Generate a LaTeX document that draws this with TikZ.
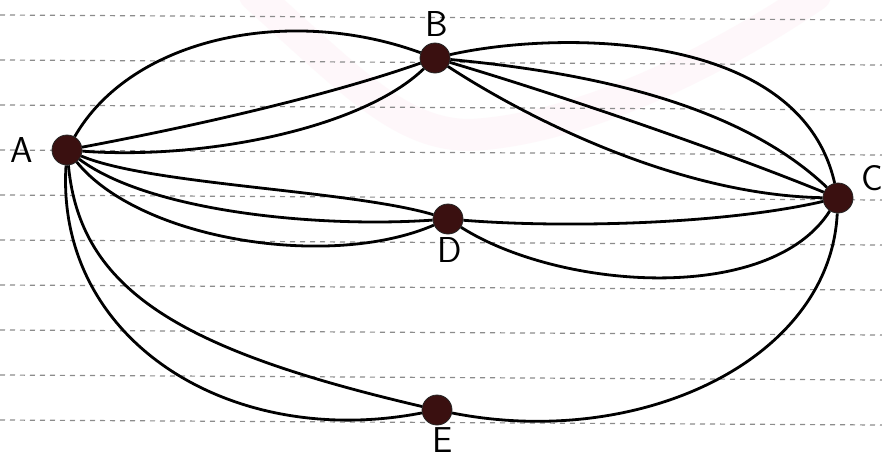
\documentclass[tikz,border=0pt]{standalone}
\definecolor{dotfill}{RGB}{58,16,16}
\definecolor{ruling}{RGB}{140,140,140}
\definecolor{blush}{RGB}{253,236,243}
\begin{document}
\begin{tikzpicture}[x=1pt,y=-1pt,
  vertex/.style={circle,fill=dotfill,draw=black!85,line width=0.8pt,minimum size=30pt,inner sep=0pt},
  letter/.style={font=\sffamily\fontsize{36}{36}\selectfont,inner sep=0pt},
  edge/.style={line width=2.8pt,black},
  ruleline/.style={ruling,line width=1.2pt,dash pattern=on 5pt off 5pt}]
\useasboundingbox (0,0) rectangle (882,459);
\fill[white] (0,0) rectangle (882,459);
% faint pink stroke on the paper
\draw[blush,line width=32pt,line cap=round,opacity=0.4]
  (255,-5) .. controls (350,80) and (400,135) .. (470,135)
  .. controls (580,130) and (720,60) .. (815,-5);
% ruled paper
\foreach \k in {0,...,9} \draw[ruleline] (0,15+45*\k) -- (882,20+45*\k);
% vertices
\node[vertex] (a) at (67,150) {};
\node[vertex] (b) at (435,58) {};
\node[vertex] (c) at (838,198) {};
\node[vertex] (d) at (448,219) {};
\node[vertex] (e) at (437,410) {};
% labels
\node[letter] (la) at (22,150) {A};
\node[letter] (lb) at (437,24) {B};
\node[letter] (lc) at (872,178) {C};
\node[letter] (ld) at (450,250) {D};
\node[letter] (le) at (443,440) {E};
% A--B
\draw[edge] (a) .. controls (132,37) and (290,5) .. (b);
\draw[edge] (a) .. controls (200,125) and (330,95) .. (b);
\draw[edge] (a) .. controls (200,160) and (360,130) .. (b);
% B--C
\draw[edge] (b) .. controls (560,30) and (800,30) .. (c);
\draw[edge] (b) .. controls (560,70) and (730,95) .. (c);
\draw[edge] (b) .. controls (560,95) and (720,150) .. (c);
\draw[edge] (b) .. controls (530,120) and (680,195) .. (c);
% A--D
\draw[edge] (a) .. controls (150,185) and (350,190) .. (d);
\draw[edge] (a) .. controls (150,212) and (320,228) .. (d);
\draw[edge] (a) .. controls (140,240) and (330,270) .. (d);
% D--C
\draw[edge] (d) .. controls (560,228) and (720,225) .. (c);
\draw[edge] (d) .. controls (560,290) and (770,305) .. (c);
% A--E
\draw[edge] (a) .. controls (55,340) and (230,450) .. (e);
\draw[edge] (a) .. controls (80,290) and (180,350) .. (e);
% C--E
\draw[edge] (c) .. controls (830,360) and (640,450) .. (e);
\end{tikzpicture}
\end{document}
